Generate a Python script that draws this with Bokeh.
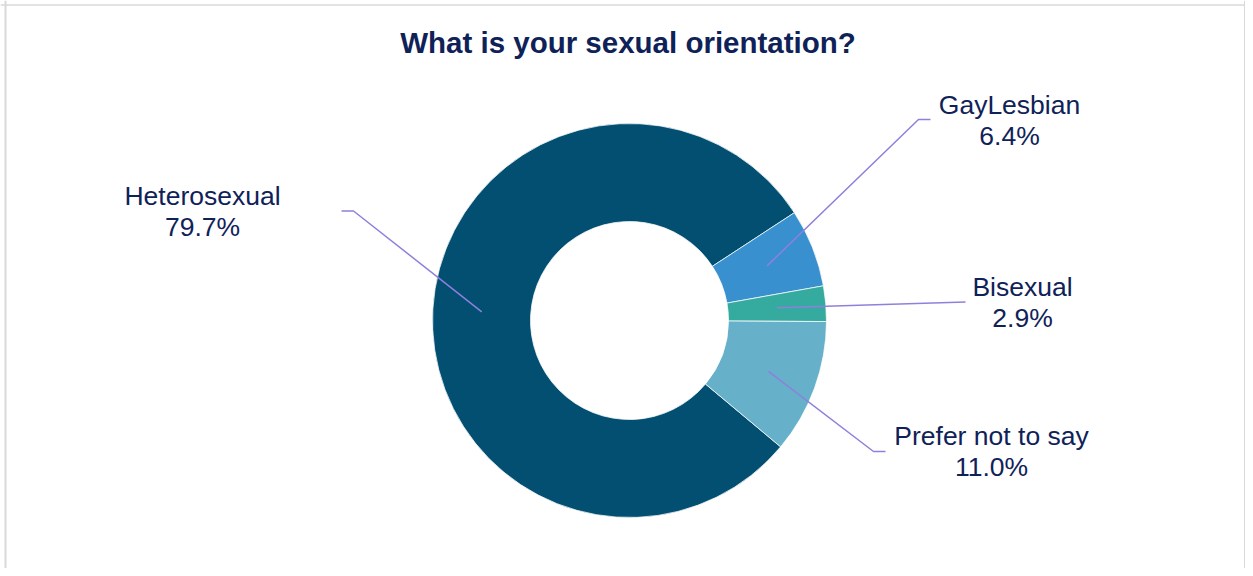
import numpy as np
from bokeh.plotting import figure
from bokeh.models import Range1d, Span, ColumnDataSource
from bokeh.embed import file_html
from bokeh.resources import INLINE
from bokeh.core.properties import value

# ---- data ----
title_text = "What is your sexual orientation?"
categories = ["Heterosexual", "GayLesbian", "Bisexual", "Prefer not to say"]
percents = [79.7, 6.4, 2.9, 11.0]
colors = ["#024F72", "#3890CE", "#35AA9E", "#66B0C9"]

# ---- layout ----
W, H = 1245, 568


def Y(sy):
    return H - sy


cx, cy = 629, Y(320)
r_in, r_out = 99, 197
start_cw = 129.9  # first slice starts here, degrees clockwise from 12 o'clock

font = "Liberation Sans"
navy = "#0F2258"
leader = "#8E80DD"
text_shift = -10  # compensate renderer baseline offset

p = figure(width=W, height=H, output_backend="svg", toolbar_location=None,
           x_range=Range1d(0, W), y_range=Range1d(0, H), min_border=0,
           background_fill_color="white", border_fill_color="white")
p.axis.visible = False
p.grid.visible = False
p.outline_line_color = None

# wedges
total = sum(percents)
fr = np.array(percents) / total
cum = np.concatenate([[0], np.cumsum(fr)])
th1 = start_cw + cum[:-1] * 360
th2 = start_cw + cum[1:] * 360
src = ColumnDataSource(dict(
    start=np.radians(90 - th2), end=np.radians(90 - th1),
    color=colors, cat=categories,
))
p.annular_wedge(x=cx, y=cy, inner_radius=r_in, outer_radius=r_out,
                start_angle="start", end_angle="end", direction="anticlock",
                fill_color="color", line_color="white", line_width=0.75,
                source=src)

# labels: (center x, first-line baseline y) and leader elbow/end points
label_pos = [(202, 205), (1009, 114), (1022, 296), (991, 445)]
leader_pts = [[(353, 210.5), (341, 210.5)],
              [(918, 119), (930, 119)],
              [(965, 301.5)],
              [(873, 451), (885, 451)]]

thm = (th1 + th2) / 2
r_mid = (r_in + r_out) / 2
xs, ys = [], []
for k in range(len(categories)):
    a = np.radians(thm[k])
    sx0 = cx + r_mid * np.sin(a)
    sy0 = cy + r_mid * np.cos(a)
    lx = [sx0] + [pt[0] for pt in leader_pts[k]]
    ly = [sy0] + [Y(pt[1]) for pt in leader_pts[k]]
    xs.append(lx)
    ys.append(ly)
p.multi_line(xs=xs, ys=ys, line_color=leader, line_width=1.5)

line_gap = 31
tx, ty, tt = [], [], []
for k, cat in enumerate(categories):
    x0, b0 = label_pos[k]
    tx += [x0, x0]
    ty += [Y(b0 + text_shift), Y(b0 + line_gap + text_shift)]
    tt += [cat, f"{percents[k]:.1f}%"]
p.text(x=tx, y=ty, text=tt, text_font=value(font), text_font_size="26.5px",
       text_color=navy, text_align="center", text_baseline="alphabetic")

# title
p.text(x=[627.5], y=[Y(52 + text_shift)], text=[title_text], text_font=value(font),
       text_font_size="29.5px", text_font_style="bold", text_color=navy,
       text_align="center", text_baseline="alphabetic")

# border
p.add_layout(Span(location=5, dimension="height", line_color="#D9D9D9", line_width=2))
p.add_layout(Span(location=W - 1, dimension="height", line_color="#D9D9D9", line_width=1))
p.add_layout(Span(location=Y(4.5), dimension="width", line_color="#D9D9D9", line_width=1.5))

open("out.html", "w").write(file_html(p, INLINE))
